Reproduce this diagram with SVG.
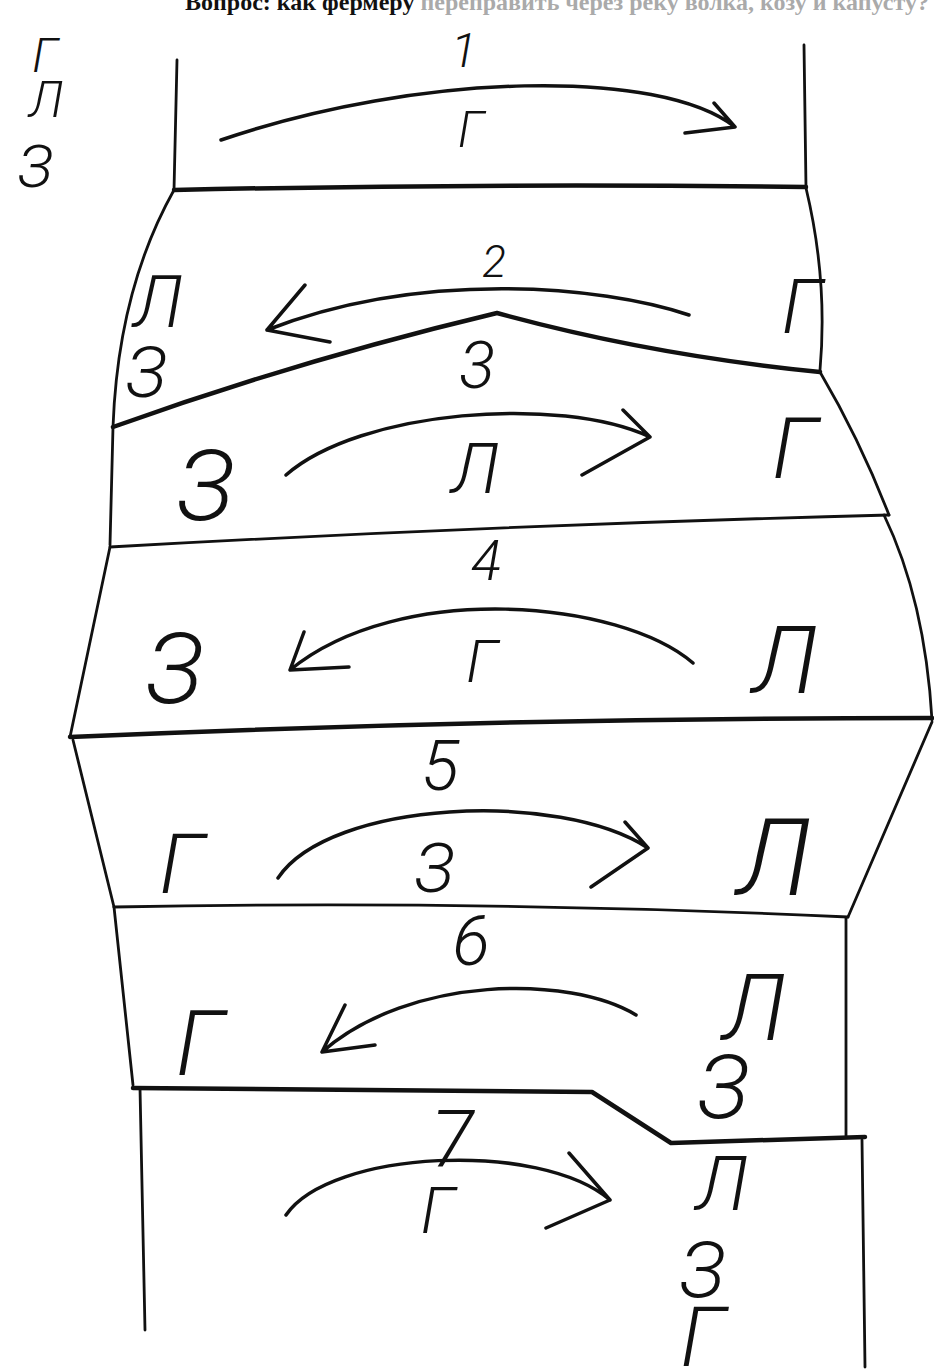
<svg xmlns="http://www.w3.org/2000/svg" width="934" height="1371" viewBox="0 0 934 1371">
<style>
.ln{fill:none;stroke:#111;stroke-width:2.8;stroke-linecap:round;stroke-linejoin:round}
.tk{fill:none;stroke:#111;stroke-width:4.5;stroke-linecap:round;stroke-linejoin:round}
.ar{fill:none;stroke:#111;stroke-width:3.5;stroke-linecap:round;stroke-linejoin:round}
.h{font-family:"Roboto","Liberation Sans","DejaVu Sans",sans-serif;font-weight:300;font-style:italic;fill:#111;text-anchor:middle}
.hd{font-family:"Liberation Serif","DejaVu Serif",serif;font-weight:bold;font-size:24px}
</style>
<rect width="934" height="1371" fill="#fff"/>
<g id="heading">
<text class="hd" x="185" y="10"><tspan fill="#111">Вопрос: как фермеру </tspan><tspan fill="#aaa">переправить через реку волка, козу и капусту?</tspan></text>
</g>
<g id="initial">
<text class="h" x="45" y="72" font-size="48">Г</text>
<text class="h" x="46" y="117" font-size="50">Л</text>
<text class="h" x="35" y="187" font-size="60">З</text>
</g>
<g id="panel-1">
<path class="ln" d="M177,60 L174,190"/>
<path class="ln" d="M804,45 L806,188"/>
<path class="tk" d="M174,190 Q490,183 806,187"/>
<text class="h" x="464" y="67" font-size="48">1</text>
<text class="h" x="471" y="147" font-size="49">Г</text>
</g>
<g id="panel-2">
<path class="ln" d="M174,190 Q118,290 113,427"/>
<path class="ln" d="M806,188 Q828,280 820,370"/>
<path class="tk" d="M113,427 Q300,360 497,313 Q650,355 820,372"/>
<text class="h" x="494" y="277" font-size="44">2</text>
<text class="h" x="158" y="327" font-size="72">Л</text>
<text class="h" x="146" y="397" font-size="70">З</text>
<text class="h" x="802" y="333" font-size="76">Г</text>
</g>
<g id="panel-3">
<path class="ln" d="M113,427 L110,545"/>
<path class="ln" d="M820,372 Q860,440 889,515"/>
<path class="ln" d="M110,547 Q500,525 889,515"/>
<text class="h" x="477" y="388" font-size="67">3</text>
<text class="h" x="205" y="520" font-size="98">З</text>
<text class="h" x="475" y="493" font-size="70">Л</text>
<text class="h" x="795" y="478" font-size="85">Г</text>
</g>
<g id="panel-4">
<path class="ln" d="M110,547 L70,737"/>
<path class="ln" d="M884,515 Q925,600 932,720"/>
<path class="tk" d="M70,737 Q500,718 932,718"/>
<text class="h" x="486" y="580" font-size="56">4</text>
<text class="h" x="174" y="703" font-size="98">З</text>
<text class="h" x="482" y="682" font-size="59">Г</text>
<text class="h" x="785" y="693" font-size="95">Л</text>
</g>
<g id="panel-5">
<path class="ln" d="M73,740 L114,907"/>
<path class="ln" d="M932,722 L848,917"/>
<path class="ln" d="M114,907 Q480,900 848,917"/>
<text class="h" x="440" y="790" font-size="70">5</text>
<text class="h" x="182" y="893" font-size="84">Г</text>
<text class="h" x="434" y="892" font-size="68">З</text>
<text class="h" x="774" y="895" font-size="108">Л</text>
</g>
<g id="panel-6">
<path class="ln" d="M114,907 L133,1085"/>
<path class="ln" d="M846,918 L846,1137"/>
<path class="tk" d="M133,1088 L592,1092 L671,1143 L865,1137"/>
<text class="h" x="471" y="965" font-size="70">6</text>
<text class="h" x="200" y="1075" font-size="90">Г</text>
<text class="h" x="754" y="1040" font-size="92">Л</text>
<text class="h" x="723" y="1118" font-size="88">З</text>
</g>
<g id="panel-7">
<path class="ln" d="M140,1088 L145,1330"/>
<path class="ln" d="M862,1140 L865,1367"/>
<text class="h" x="452" y="1167" font-size="80">7</text>
<text class="h" x="438" y="1233" font-size="64">Г</text>
<text class="h" x="722" y="1210" font-size="76">Л</text>
<text class="h" x="702" y="1297" font-size="78">З</text>
<text class="h" x="703" y="1366" font-size="84">Г</text>
</g>
<g id="connectors">
<path class="ar" d="M221,140 C420,72 660,68 735,127 M714,103 L735,127 L685,133"/>
<path class="ar" d="M689,315 C600,285 420,270 267,330 M305,285 L267,330 L330,342"/>
<path class="ar" d="M286,475 C360,410 560,395 650,437 M623,410 L650,437 L582,475"/>
<path class="ar" d="M693,663 C620,600 400,580 290,670 M304,632 L290,670 L349,667"/>
<path class="ar" d="M278,878 C330,800 560,790 648,848 M625,822 L648,848 L591,887"/>
<path class="ar" d="M636,1015 C570,975 410,975 322,1052 M345,1005 L322,1052 L375,1045"/>
<path class="ar" d="M286,1215 C330,1150 540,1140 610,1200 M569,1153 L610,1200 L546,1228"/>
</g>
</svg>
